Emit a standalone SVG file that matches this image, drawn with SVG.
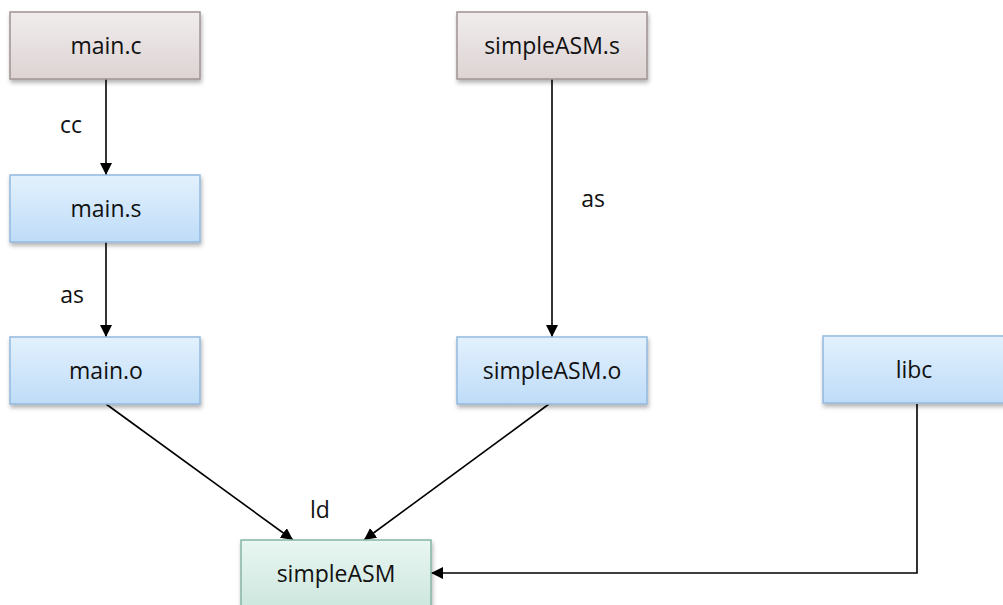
<svg xmlns="http://www.w3.org/2000/svg" width="1003" height="605" viewBox="0 0 1003 605">
  <defs>
    <linearGradient id="gSrc" x1="0" y1="0" x2="0" y2="1">
      <stop offset="0" stop-color="#f1eded"/>
      <stop offset="1" stop-color="#ddd3d3"/>
    </linearGradient>
    <linearGradient id="gObj" x1="0" y1="0" x2="0" y2="1">
      <stop offset="0" stop-color="#e3f1fd"/>
      <stop offset="1" stop-color="#bedcf8"/>
    </linearGradient>
    <linearGradient id="gBin" x1="0" y1="0" x2="0" y2="1">
      <stop offset="0" stop-color="#e9f6f2"/>
      <stop offset="1" stop-color="#cde7de"/>
    </linearGradient>
    <filter id="shadow" x="-10%" y="-10%" width="120%" height="140%">
      <feDropShadow dx="1" dy="3" stdDeviation="2" flood-color="#000" flood-opacity="0.3"/>
    </filter>
    <marker id="arrow" viewBox="0 0 12 12" refX="12" refY="6" markerWidth="12" markerHeight="12" markerUnits="userSpaceOnUse" orient="auto">
      <path d="M0,0 L12,6 L0,12 z" fill="#000"/>
    </marker>
  </defs>
  <style>
    .box { stroke-width: 1.5; filter: url(#shadow); }
    .src { fill: url(#gSrc); stroke: #a09393; }
    .obj { fill: url(#gObj); stroke: #93b9de; }
    .bin { fill: url(#gBin); stroke: #86b4a8; }
    .lbl { font-family: "Open Sans", "Liberation Sans", sans-serif; font-size: 23px; fill: #111; text-anchor: middle; }
    .edge { stroke: #000; stroke-width: 1.6; fill: none; marker-end: url(#arrow); }
  </style>
  <rect width="1003" height="605" fill="#fff"/>

  <g id="connectors">
    <line class="edge" x1="106" y1="79" x2="106" y2="175"/>
    <line class="edge" x1="106" y1="242" x2="106" y2="337"/>
    <line class="edge" x1="552" y1="79" x2="552" y2="337"/>
    <line class="edge" x1="106" y1="404" x2="293" y2="540"/>
    <line class="edge" x1="549" y1="404" x2="364" y2="540"/>
    <polyline class="edge" points="917,404 917,573 431,573"/>
    <text class="lbl" x="71" y="133">cc</text>
    <text class="lbl" x="72" y="303">as</text>
    <text class="lbl" x="593" y="207">as</text>
    <text class="lbl" x="320" y="518">ld</text>
  </g>

  <g id="main-c">
    <rect class="box src" x="10" y="12" width="190" height="67"/>
    <text class="lbl" x="106" y="54">main.c</text>
  </g>
  <g id="simpleASM-s">
    <rect class="box src" x="457" y="12" width="190" height="67"/>
    <text class="lbl" x="552" y="54">simpleASM.s</text>
  </g>
  <g id="main-s">
    <rect class="box obj" x="10" y="175" width="190" height="67"/>
    <text class="lbl" x="106" y="217">main.s</text>
  </g>
  <g id="main-o">
    <rect class="box obj" x="10" y="337" width="190" height="67"/>
    <text class="lbl" x="106" y="379">main.o</text>
  </g>
  <g id="simpleASM-o">
    <rect class="box obj" x="457" y="337" width="190" height="67"/>
    <text class="lbl" x="552" y="379">simpleASM.o</text>
  </g>
  <g id="libc">
    <rect class="box obj" x="823" y="336" width="190" height="67"/>
    <text class="lbl" x="914" y="378">libc</text>
  </g>
  <g id="simpleASM">
    <rect class="box bin" x="241" y="540" width="190" height="67"/>
    <text class="lbl" x="336" y="582">simpleASM</text>
  </g>
</svg>
